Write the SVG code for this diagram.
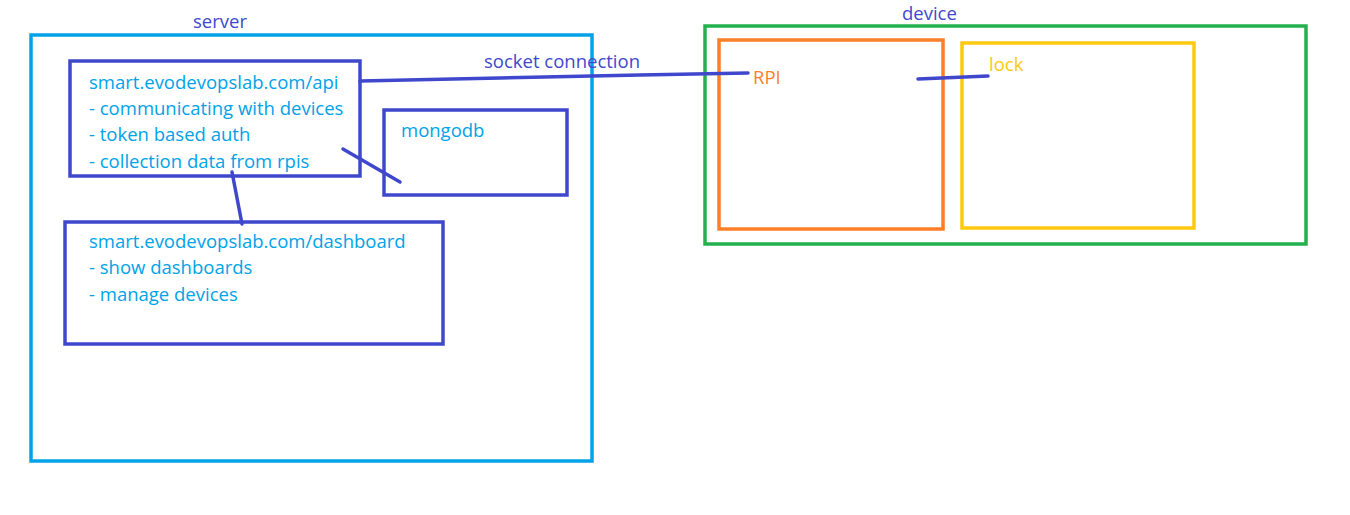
<svg xmlns="http://www.w3.org/2000/svg" width="1350" height="515" viewBox="0 0 1350 515">
<style>
text { font-family: "Open Sans", "Noto Sans", sans-serif; font-size: 18.5px; }
.t { fill: #00A2E8; }
.lbl { fill: #3F48CC; }
.box { fill: none; stroke: #3F48CC; stroke-width: 3.5; }
.con { fill: none; stroke: #3F48CC; stroke-width: 3.5; stroke-linecap: round; }
</style>
<rect width="1350" height="515" fill="#ffffff"/>
<g id="server">
  <rect x="31" y="35" width="561" height="426" fill="none" stroke="#00A2E8" stroke-width="3.5"/>
  <text class="lbl" x="193" y="28">server</text>
</g>
<g id="api">
  <rect class="box" x="70" y="61" width="290" height="115"/>
  <text class="t" x="89" y="89">smart.evodevopslab.com/api</text>
  <text class="t" x="89" y="115">- communicating with devices</text>
  <text class="t" x="89" y="141">- token based auth</text>
  <text class="t" x="89" y="168">- collection data from rpis</text>
</g>
<g id="mongodb">
  <rect class="box" x="384" y="110" width="183" height="85"/>
  <text class="t" x="401" y="137">mongodb</text>
</g>
<g id="dashboard">
  <rect class="box" x="65" y="222" width="378" height="122"/>
  <text class="t" x="89" y="248">smart.evodevopslab.com/dashboard</text>
  <text class="t" x="89" y="274">- show dashboards</text>
  <text class="t" x="89" y="301">- manage devices</text>
</g>
<g id="device">
  <rect x="705" y="26" width="601" height="218" fill="none" stroke="#22B14C" stroke-width="3.5"/>
  <text class="lbl" x="902" y="20">device</text>
</g>
<g id="rpi">
  <rect x="719" y="40" width="224" height="189" fill="none" stroke="#FF7F27" stroke-width="3.5"/>
  <text x="753" y="84" fill="#FF7F27">RPI</text>
</g>
<g id="lock">
  <rect x="962" y="43" width="232" height="185" fill="none" stroke="#FFC90E" stroke-width="3.5"/>
  <text x="989" y="71" fill="#FFC90E">lock</text>
</g>
<g id="connectors">
  <polyline class="con" points="360,81 500,78 640,75 748,73"/>
  <text class="lbl" x="484" y="68">socket connection</text>
  <line class="con" x1="343" y1="149" x2="400" y2="182"/>
  <line class="con" x1="232" y1="172" x2="242" y2="224"/>
  <line class="con" x1="918" y1="79" x2="988" y2="76"/>
</g>
</svg>
